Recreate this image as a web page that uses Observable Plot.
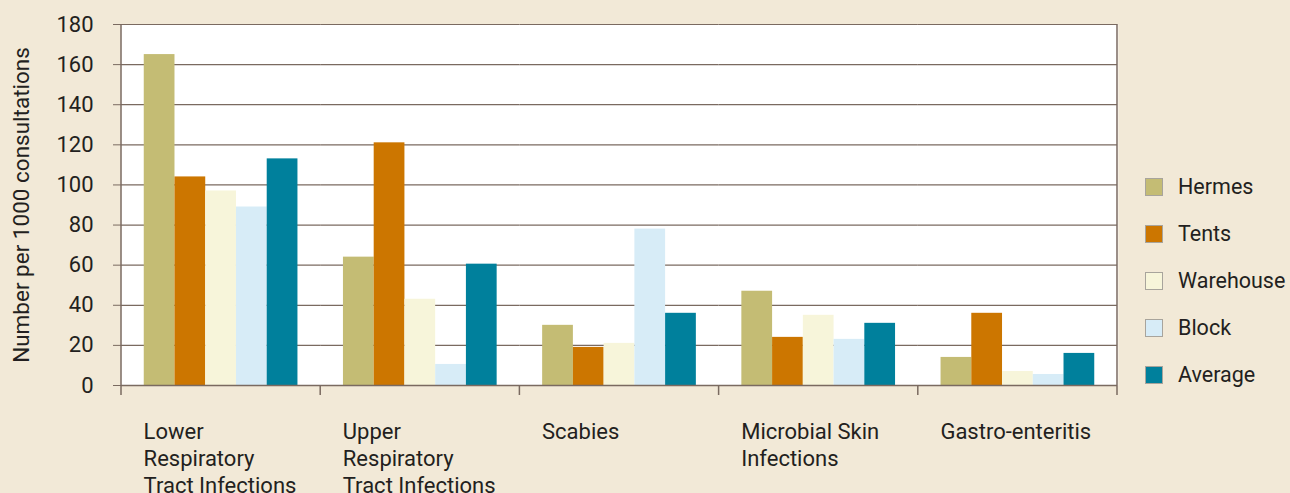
<!DOCTYPE html>
<html>
<head>
<meta charset="utf-8">
<script src="https://cdn.jsdelivr.net/npm/d3@7"></script>
<script src="https://cdn.jsdelivr.net/npm/@observablehq/plot@0.6"></script>
<style>
  html, body { margin: 0; padding: 0; background: #F2E9D7; }
  #wrap { position: relative; width: 1290px; height: 493px; overflow: hidden; font-family: Roboto, sans-serif; color: #231f20; }
  #legend { position: absolute; left: 1145px; top: 163px; }
  .row { display: flex; align-items: center; height: 47px; font-size: 21.5px; }
  .sw { width: 16px; height: 16px; border: 1px solid #a8a49c; margin-right: 15px; box-sizing: content-box; }
</style>
</head>
<body>
<div id="wrap"></div>
<script>
const categories = ["Lower Respiratory Tract Infections", "Upper Respiratory Tract Infections", "Scabies", "Microbial Skin Infections", "Gastro-enteritis"];
const categoryLabels = ["Lower\nRespiratory\nTract Infections", "Upper\nRespiratory\nTract Infections", "Scabies", "Microbial Skin\nInfections", "Gastro-enteritis"];
const series = ["Hermes", "Tents", "Warehouse", "Block", "Average"];
const hermes = [165, 64, 30, 47, 14];
const tents = [104, 121, 19, 24, 36];
const warehouse = [97, 43, 21, 35, 7];
const block = [89, 10.5, 78, 23, 5.5];
const average = [113, 60.5, 36, 31, 16];
const yTicks = [0, 20, 40, 60, 80, 100, 120, 140, 160, 180];
const yLabel = "Number per 1000 consultations";
const colors = ["#C4BC74", "#CC7600", "#F7F5DA", "#D7ECF7", "#00809C"];

const values = [hermes, tents, warehouse, block, average];
const data = [];
categories.forEach((c, i) => series.forEach((s, j) => data.push({category: c, series: s, value: values[j][i]})));

const ink = "#231f20";
const gridColor = "#7a6a60";

const plot = Plot.plot({
  width: 1290,
  height: 493,
  marginTop: 24,
  marginBottom: 108,
  marginLeft: 121,
  marginRight: 173,
  style: {background: "transparent", fontFamily: "Roboto, sans-serif", color: ink},
  fx: {domain: categories, padding: 0, round: false, axis: null, label: null},
  x: {domain: series, paddingInner: 0, paddingOuter: 0.74, round: false, axis: null},
  y: {domain: [0, 180], axis: null},
  color: {domain: series, range: colors},
  marks: [
    Plot.frame({fill: "white", stroke: null, insetLeft: -0.75, insetRight: -0.75}),
    Plot.gridY(yTicks, {stroke: gridColor, strokeOpacity: 1, strokeWidth: 1.2}),
    Plot.barY(data, {fx: "category", x: "series", y: "value", fill: "series"}),
    Plot.ruleY([0], {stroke: gridColor, strokeWidth: 1.5}),
    Plot.axisY(yTicks, {tickSize: 8, tickPadding: 20, fontSize: 22, stroke: gridColor, fill: ink, label: null, tickFormat: d => String(d)}),
    Plot.axisY({ticks: [], tickSize: 0, label: yLabel, labelAnchor: "center", labelArrow: "none", labelOffset: 108, fontSize: 22.5, fill: ink}),
    Plot.axisFx({anchor: "bottom", tickSize: 0, tickPadding: 34, textAnchor: "start", dx: -77.5, lineHeight: 1.23, fontSize: 22, fill: ink, label: null,
      tickFormat: d => categoryLabels[categories.indexOf(d)]})
  ]
});

// Frame edges and category boundary ticks, from the library's fx / y scales
const fx = plot.scale("fx");
const ys = plot.scale("y");
const svg = d3.select(plot);
const yTop = ys.apply(180), yBase = ys.apply(0);
const bounds = categories.map(c => fx.apply(c)).concat([fx.apply(categories[categories.length - 1]) + fx.bandwidth]);
const g = svg.append("g").attr("stroke", gridColor).attr("stroke-width", 1.5);
bounds.forEach((b, i) => {
  const edge = i === 0 || i === bounds.length - 1;
  g.append("line").attr("x1", b).attr("x2", b).attr("y1", edge ? yTop : yBase).attr("y2", yBase + 10);
});

const wrap = document.getElementById("wrap");
wrap.appendChild(plot);

const legend = document.createElement("div");
legend.id = "legend";
series.forEach((s, i) => {
  const row = document.createElement("div");
  row.className = "row";
  const sw = document.createElement("div");
  sw.className = "sw";
  sw.style.background = colors[i];
  const t = document.createElement("span");
  t.textContent = s;
  row.appendChild(sw);
  row.appendChild(t);
  legend.appendChild(row);
});
wrap.appendChild(legend);
</script>
</body>
</html>
